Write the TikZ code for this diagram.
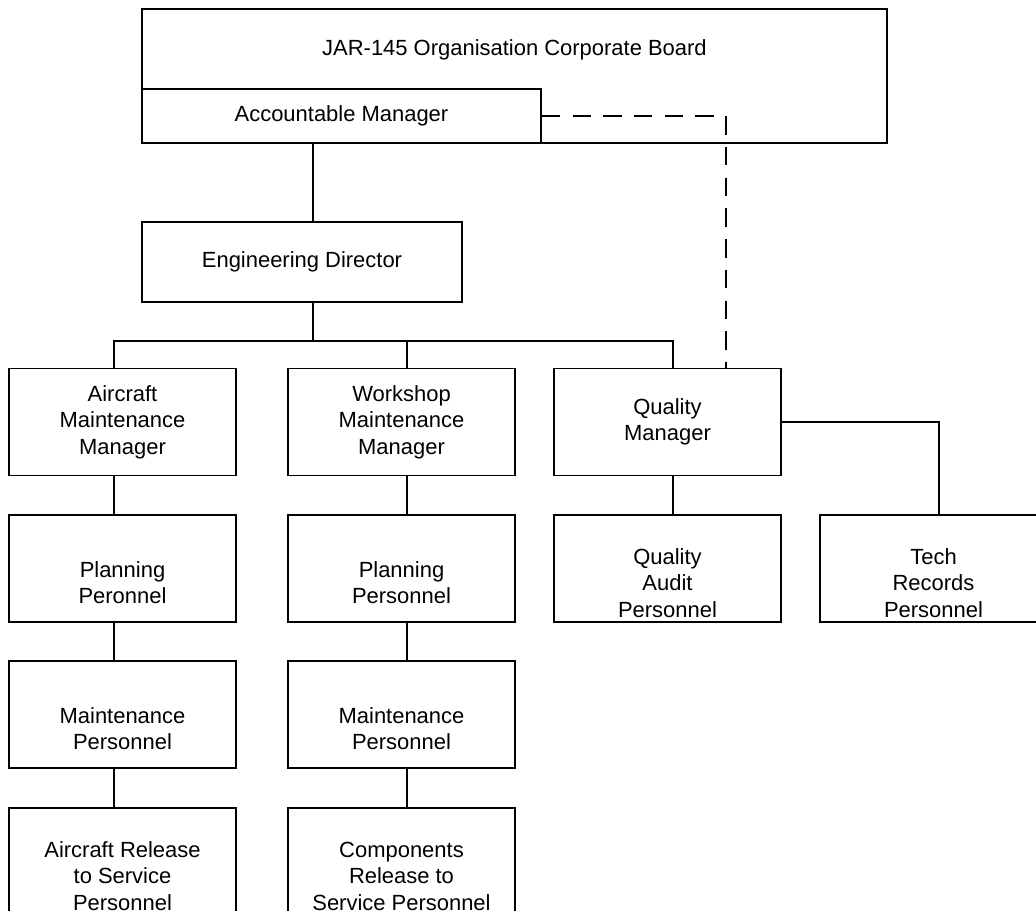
\documentclass[tikz,border=0pt]{standalone}
\usepackage{fontspec}
\setmainfont{Liberation Sans}
\usepackage{tikz}
\newcommand\gapline{\strut\\}

\begin{document}
\begin{tikzpicture}[x=0.02cm, y=-0.02cm,
		every node/.style={font=\fontsize{12.5}{15}\selectfont},
		post/.style={draw, line width=0.9pt, inner sep=0pt, align=center, minimum width=4.54cm, minimum height=2.14cm},
		link/.style={line width=0.9pt},
		reportline/.style={line width=0.6pt, dash pattern=on 10.5pt off 7pt}]
		%%%%% START %%%%%
		
		\useasboundingbox (0, 0) rectangle (1036, 911);
		\clip (0, 0) rectangle (1036, 911);
		
		\coordinate (c1) at (114, 0);
		\coordinate (c2) at (407, 0);
		\coordinate (c3) at (673, 0);
		\coordinate (c4) at (939, 0);
		\coordinate (amx) at (313, 0);
		\coordinate (dsh) at (726, 0);
		\coordinate (bus) at (0, 341);
		
		\node[draw, line width=0.9pt, minimum width=14.9cm, minimum height=2.68cm] (board) at (514.5, 76) {};
		\node (boardtitle) at (514.5, 50) {JAR-145 Organisation Corporate Board};
		\node[draw, line width=0.9pt, minimum width=7.98cm, minimum height=1.08cm] (am) at (341.5, 116) {Accountable Manager};
		
		\node[draw, line width=0.9pt, minimum width=6.4cm, minimum height=1.6cm] (ed) at (302, 262) {Engineering Director};
		
		\node[post] (amm) at (122.5, 422) {Aircraft\\Maintenance\\Manager};
		\node[post] (wmm) at (401.5, 422) {Workshop\\Maintenance\\Manager};
		\node[post] (qm) at (667.5, 422) {Quality\\Manager};
		
		\node[post] (pp1) at (122.5, 568.5) {\gapline Planning\\Peronnel};
		\node[post] (pp2) at (401.5, 568.5) {\gapline Planning\\Personnel};
		\node[post] (qap) at (667.5, 568.5) {\gapline Quality\\Audit\\Personnel};
		\node[post] (trp) at (933.5, 568.5) {\gapline Tech\\Records\\Personnel};
		
		\node[post] (mp1) at (122.5, 714.5) {\gapline Maintenance\\Personnel};
		\node[post] (mp2) at (401.5, 714.5) {\gapline Maintenance\\Personnel};
		
		\node[post] (rs1) at (122.5, 861.5) {\gapline Aircraft Release\\to Service\\Personnel};
		\node[post] (rs2) at (401.5, 861.5) {\gapline Components\\Release to\\Service Personnel};
		
		\draw[link] (am.south -| amx) -- (ed.north -| amx);
		\draw[link] (ed.south -| amx) -- (bus -| amx);
		\draw[link] (amm.north -| c1) -- (bus -| c1) -- (bus -| c3) -- (qm.north -| c3);
		\draw[link] (wmm.north -| c2) -- (bus -| c2);
		
		\draw[reportline] (am.east) -- (am.east -| dsh) -- (qm.north -| dsh);
		
		\draw[link] (amm.south -| c1) -- (pp1.north -| c1);
		\draw[link] (pp1.south -| c1) -- (mp1.north -| c1);
		\draw[link] (mp1.south -| c1) -- (rs1.north -| c1);
		\draw[link] (wmm.south -| c2) -- (pp2.north -| c2);
		\draw[link] (pp2.south -| c2) -- (mp2.north -| c2);
		\draw[link] (mp2.south -| c2) -- (rs2.north -| c2);
		\draw[link] (qm.south -| c3) -- (qap.north -| c3);
		\draw[link] (qm.east) -- (qm.east -| c4) -- (trp.north -| c4);
		
		%%%%% END %%%%%
	\end{tikzpicture}
\end{document}
